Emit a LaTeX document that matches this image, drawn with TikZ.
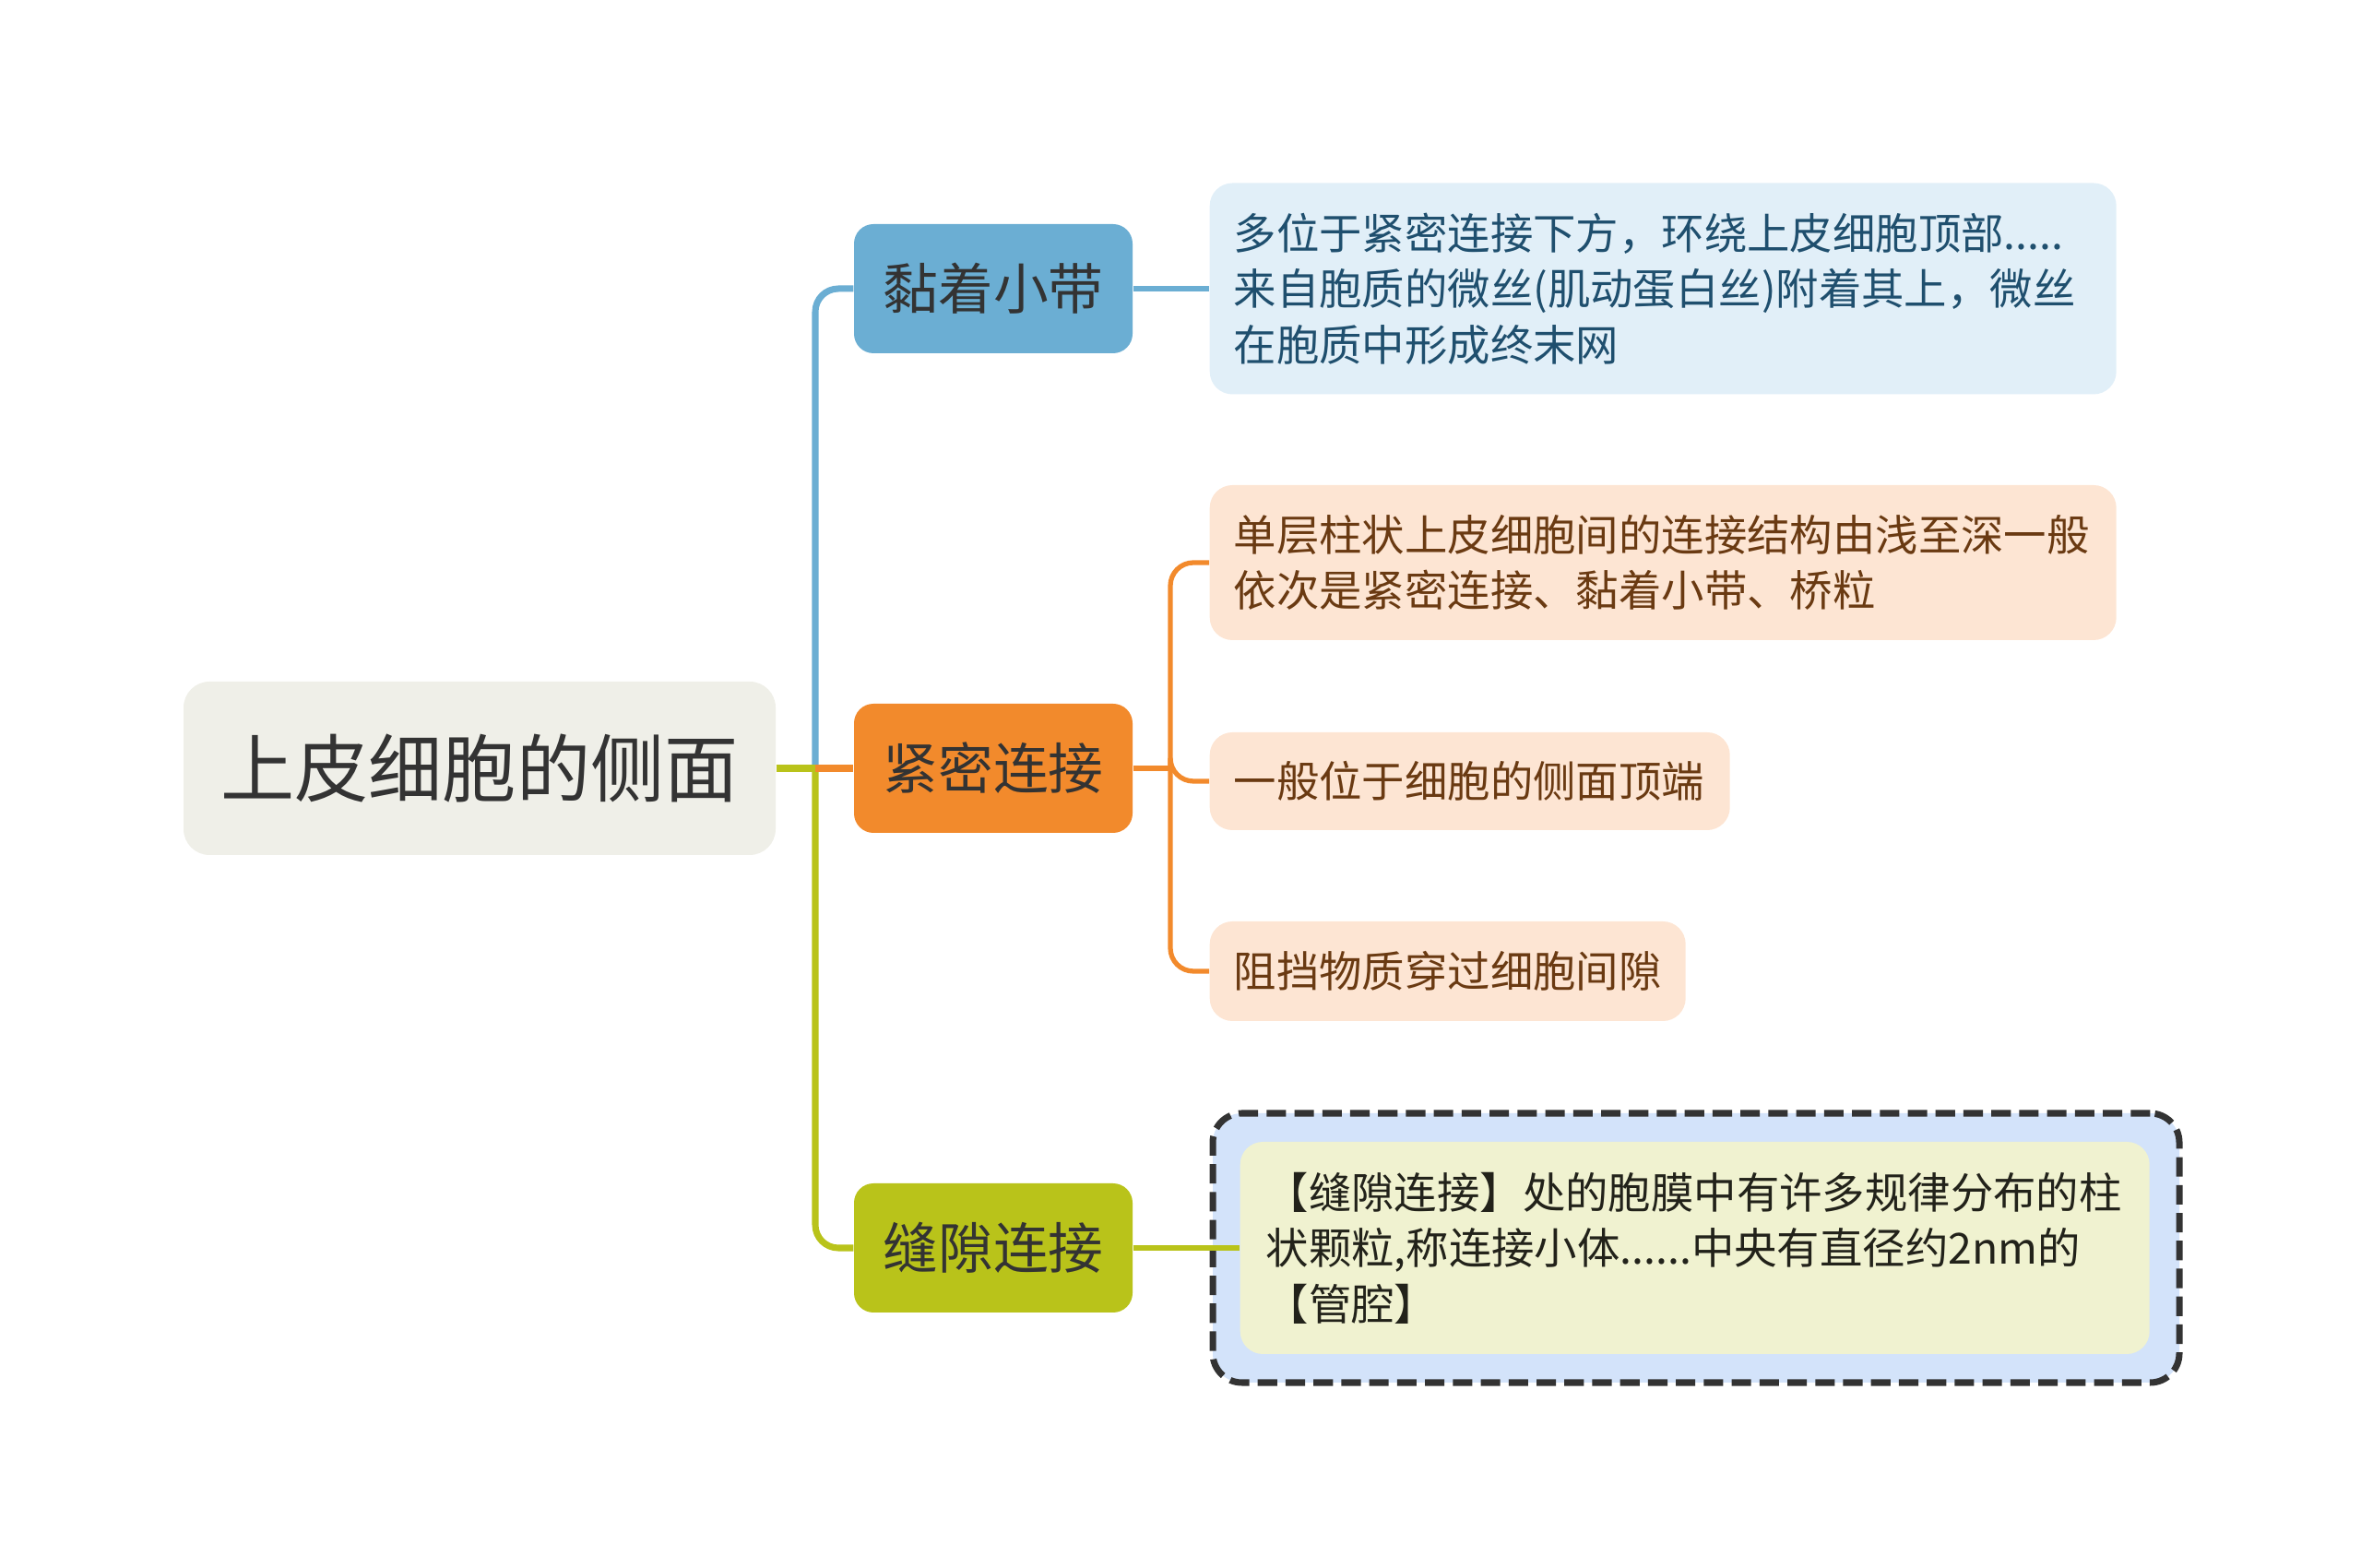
\documentclass[tikz,border=0pt]{standalone}
\usepackage{fontspec}
\setmainfont{Noto Sans CJK SC}
\usetikzlibrary{positioning}
\definecolor{rootfill}{HTML}{EFEFE8}
\definecolor{bandblue}{HTML}{6BAED3}
\definecolor{tightorange}{HTML}{F28A2C}
\definecolor{gapgreen}{HTML}{B9C31A}
\definecolor{bluenote}{HTML}{E1EFF8}
\definecolor{orangenote}{HTML}{FDE5D3}
\definecolor{gapframe}{HTML}{D3E3FA}
\definecolor{gapnote}{HTML}{F0F2D0}
\definecolor{darktext}{HTML}{333333}
\definecolor{bluetext}{HTML}{1F4F6E}
\definecolor{browntext}{HTML}{6A3A12}
\definecolor{olivetext}{HTML}{22221A}
\begin{document}
\begin{tikzpicture}[
    root/.style={fill=rootfill, rounded corners=8pt, minimum width=6.42cm, minimum height=1.88cm, text=darktext, font=\fontsize{22.8}{26}\selectfont},
    branch/.style={rounded corners=6pt, minimum width=3.02cm, minimum height=1.40cm, text=darktext, font=\fontsize{17}{20}\selectfont},
    note/.style={rounded corners=7pt, anchor=west, align=left, inner xsep=0.26cm, font=\fontsize{13.2}{17.2}\selectfont},
    link/.style={line width=2pt, rounded corners=0.25cm},
    sublink/.style={line width=1.5pt, rounded corners=0.25cm, color=tightorange}]

    \useasboundingbox (0,0) rectangle (25.6,17);

    % centre and main branches
    \node (root) at (5.20,8.67) [root] {上皮细胞的侧面};
    \node (band) at (10.77,13.87) [branch, fill=bandblue] {黏着小带};
    \node (tight) at (10.77,8.67) [branch, fill=tightorange] {紧密连接};
    \node (gap) at (10.77,3.47) [branch, fill=gapgreen] {缝隙连接};
    \coordinate (hub) at (8.84,8.67);
    \coordinate (thub) at (12.69,8.67);

    % notes
    \node (bandnote) at (13.11,13.87) [note, fill=bluenote, text=bluetext, text width=9.31cm, minimum height=2.29cm]
        {多位于紧密连接下方，环绕上皮细胞顶部.....\\来自胞质的微丝(肌动蛋白丝)附着其上，微丝\\在胞质中形成终末网};
    \node (tightnoteA) at (13.11,10.90) [note, fill=orangenote, text=browntext, text width=9.31cm, minimum height=1.68cm]
        {单层柱状上皮细胞间的连接结构由浅至深一般\\依次是紧密连接、黏着小带、桥粒};
    \node (tightnoteB) at (13.11,8.53) [note, fill=orangenote, text=browntext, text width=5.12cm, minimum height=1.06cm]
        {一般位于细胞的侧面顶端};
    \node (tightnoteC) at (13.11,6.47) [note, fill=orangenote, text=browntext, text width=4.64cm, minimum height=1.08cm]
        {阻挡物质穿过细胞间隙};
    \node (gapframe) at (18.39,3.47) [draw=darktext, line width=2pt, dash pattern=on 6pt off 2.6pt, fill=gapframe, rounded corners=9pt, minimum width=10.48cm, minimum height=2.92cm] {};
    \node (gapnote) at (13.44,3.47) [note, fill=gapnote, text=olivetext, inner xsep=0.28cm, text width=9.30cm, minimum height=2.30cm]
        {【缝隙连接】处的胞膜中有许多规律分布的柱\\状颗粒,称连接小体......中央有直径约2nm的\\【管腔】};

    % connectors
    \draw [link, color=bandblue] (hub) |- (band.west);
    \draw [link, color=gapgreen] (hub) |- (gap.west);
    \draw [link, color=gapgreen] (root.east) -- (hub);
    \draw [link, color=tightorange] (hub) -- (tight.west);
    \draw [link, line width=1.5pt, color=bandblue] (band.east) -- (bandnote.west);
    \draw [sublink] (tight.east) -- (thub);
    \draw [sublink] (thub) |- (tightnoteA.west);
    \draw [sublink] (thub) |- (tightnoteB.west);
    \draw [sublink] (thub) |- (tightnoteC.west);
    \draw [link, line width=1.5pt, color=gapgreen] (gap.east) -- (gapnote.west);
\end{tikzpicture}
\end{document}
